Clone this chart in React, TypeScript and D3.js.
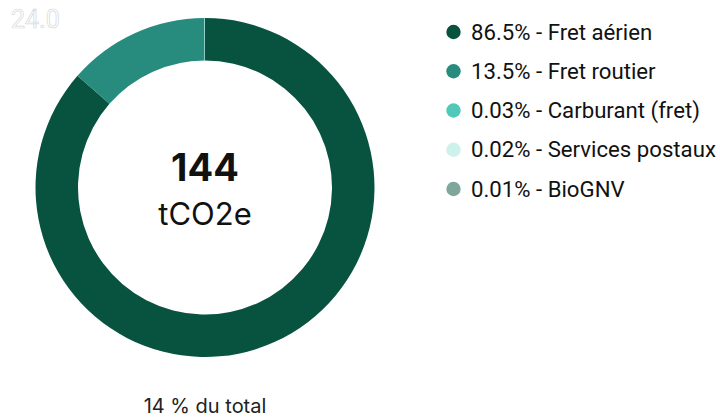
import React from "react";
import * as d3 from "d3";

const categories = ["Fret aérien", "Fret routier", "Carburant (fret)", "Services postaux", "BioGNV"];
const shares = [86.5, 13.5, 0.03, 0.02, 0.01];
const shareLabels = ["86.5%", "13.5%", "0.03%", "0.02%", "0.01%"];
const colors = ["#08533f", "#278c7e", "#52c8b8", "#cdf2ec", "#7fa69b"];
const totalLabel = "144";
const unitLabel = "tCO2e";
const footLabel = "14 % du total";
const cornerLabel = "24.0";

const W = 720;
const H = 418;

export default function App() {
  const cx = 205;
  const cy = 187.5;
  const outerR = 169.5;
  const innerR = 127;

  const pie = d3
    .pie<number>()
    .sort(null)
    .value((d) => d);
  const arcs = pie(shares);
  const arc = d3.arc<d3.PieArcDatum<number>>().innerRadius(innerR).outerRadius(outerR);

  const legendY = d3
    .scalePoint<string>()
    .domain(categories)
    .range([32, 189]);

  return (
    <svg
      width={W}
      height={H}
      style={{ position: "absolute", left: 0, top: 0, background: "#fff" }}
    >
      <g transform={`translate(${cx},${cy})`}>
        {arcs.map((a, i) => (
          <path key={categories[i]} d={arc(a) || ""} fill={colors[i]} />
        ))}
        <text
          y={-6.5}
          textAnchor="middle"
          fontFamily="Inter"
          fontWeight={700}
          fontSize={38}
          fill="#111"
        >
          {totalLabel}
        </text>
        <text
          y={37}
          textAnchor="middle"
          fontFamily="Inter"
          fontSize={31}
          fill="#111"
        >
          {unitLabel}
        </text>
      </g>

      <text
        x={cx}
        y={413}
        textAnchor="middle"
        fontFamily="Inter"
        fontSize={20}
        fill="#222"
      >
        {footLabel}
      </text>

      <text
        x={11}
        y={28}
        fontFamily="Roboto"
        fontSize={25}
        fill="#fff"
        stroke="#d8d8d8"
        strokeWidth={0.7}
      >
        {cornerLabel}
      </text>

      <g fontFamily="Roboto" fontSize={22.2} fill="#111">
        {categories.map((c, i) => (
          <g key={c} transform={`translate(0,${legendY(c)})`}>
            <circle cx={453.5} cy={0} r={7.2} fill={colors[i]} />
            <text x={471} y={7.7}>
              {`${shareLabels[i]} - ${c}`}
            </text>
          </g>
        ))}
      </g>
    </svg>
  );
}
